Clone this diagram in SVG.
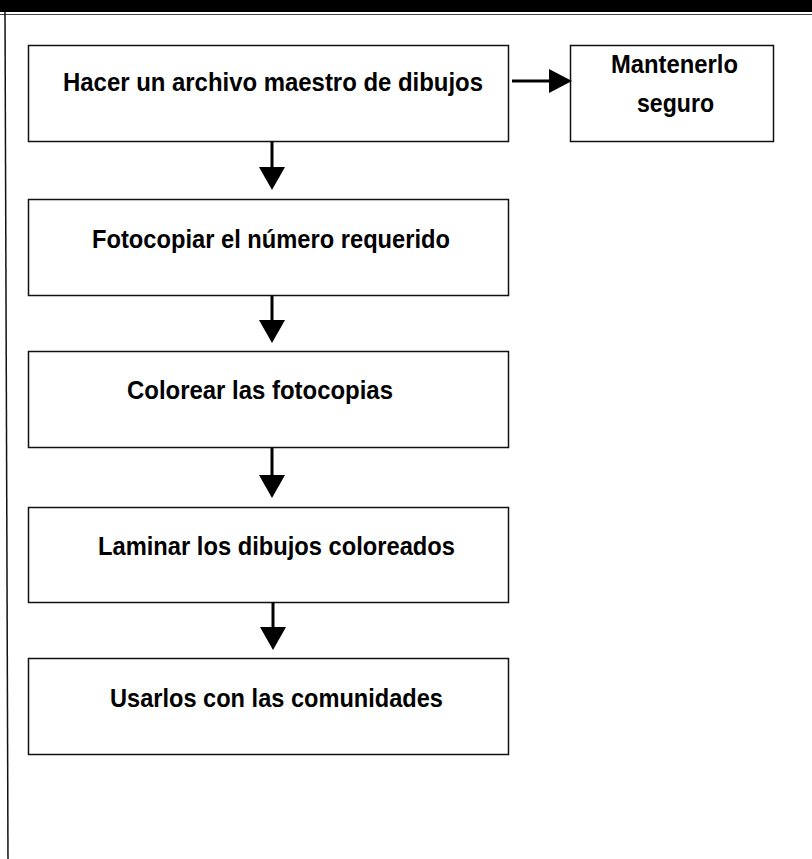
<svg xmlns="http://www.w3.org/2000/svg" width="812" height="859" viewBox="0 0 812 859">
<style>
.box{fill:#fff;stroke:#111;stroke-width:1.5}
.lbl{font-family:"Liberation Sans",Arial,sans-serif;font-weight:bold;font-size:25px;fill:#000}
.con{stroke:#000;stroke-width:3;fill:none}
.head{fill:#000}
</style>
<rect x="0" y="0" width="812" height="12" fill="#000"/>
<line x1="0" y1="14.5" x2="812" y2="14.5" stroke="#444" stroke-width="1"/>
<line x1="5" y1="12" x2="8" y2="859" stroke="#111" stroke-width="1.5"/>
<g id="n1">
<rect class="box" x="28.5" y="45.5" width="480" height="96"/>
<text class="lbl" x="63" y="91" textLength="420" lengthAdjust="spacingAndGlyphs">Hacer un archivo maestro de dibujos</text>
</g>
<g id="n2">
<rect class="box" x="570.5" y="45.5" width="203" height="96"/>
<text class="lbl" x="611" y="73" font-size="26" textLength="127" lengthAdjust="spacingAndGlyphs">Mantenerlo</text>
<text class="lbl" x="637" y="112" font-size="26" textLength="77" lengthAdjust="spacingAndGlyphs">seguro</text>
</g>
<g id="n3">
<rect class="box" x="28.5" y="199.5" width="480" height="96"/>
<text class="lbl" x="92" y="248" textLength="358" lengthAdjust="spacingAndGlyphs">Fotocopiar el número requerido</text>
</g>
<g id="n4">
<rect class="box" x="28.5" y="351.5" width="480" height="96"/>
<text class="lbl" x="127" y="399" textLength="266" lengthAdjust="spacingAndGlyphs">Colorear las fotocopias</text>
</g>
<g id="n5">
<rect class="box" x="28.5" y="507.5" width="480" height="95"/>
<text class="lbl" x="98" y="555" textLength="357" lengthAdjust="spacingAndGlyphs">Laminar los dibujos coloreados</text>
</g>
<g id="n6">
<rect class="box" x="28.5" y="658.5" width="480" height="96"/>
<text class="lbl" x="110" y="707" textLength="333" lengthAdjust="spacingAndGlyphs">Usarlos con las comunidades</text>
</g>
<g id="connectors">
<line class="con" x1="512" y1="81" x2="551" y2="81"/>
<polygon class="head" points="549,69 572,81 549,93"/>
<line class="con" x1="272" y1="141" x2="272" y2="169"/>
<polygon class="head" points="259,167 285,167 272,190"/>
<line class="con" x1="272" y1="296" x2="272" y2="322"/>
<polygon class="head" points="259,320 285,320 272,343"/>
<line class="con" x1="272" y1="448" x2="272" y2="477"/>
<polygon class="head" points="259,475 285,475 272,498"/>
<line class="con" x1="273" y1="602" x2="273" y2="629"/>
<polygon class="head" points="260,627 286,627 273,650"/>
</g>
</svg>
